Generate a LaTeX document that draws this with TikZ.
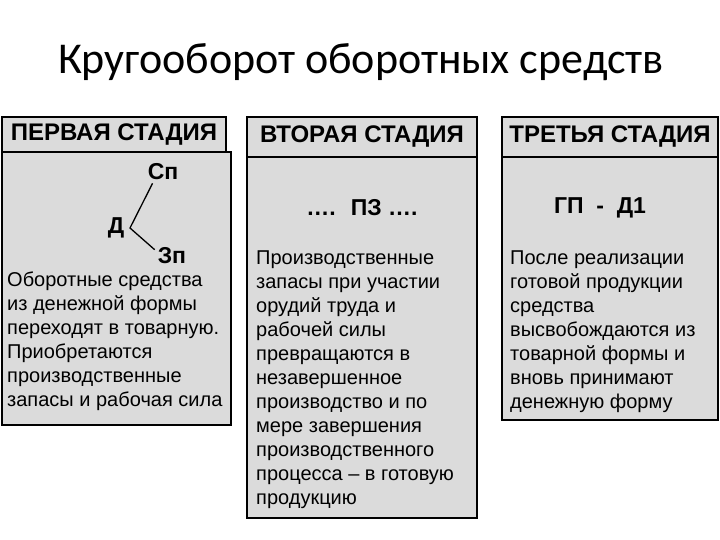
\documentclass[tikz,border=0pt]{standalone}
\usepackage{fontspec}
\setmainfont{Liberation Sans}
\newfontfamily\titlefont{Carlito}
\begin{document}
\begin{tikzpicture}[x=1pt,y=-1pt,
  boxstyle/.style={draw=black,line width=1.2pt,fill=black!14},
  bodytext/.style={anchor=north west,align=left,font=\fontsize{20}{24}\selectfont,inner sep=0pt},
  headtext/.style={font=\bfseries\fontsize{24}{26}\selectfont},
  symb/.style={font=\bfseries\fontsize{23}{26}\selectfont,inner sep=1pt}]
\useasboundingbox (0,0) rectangle (720,540);
\node[font=\titlefont\fontsize{44}{50}\selectfont] (title) at (361,62) {Кругооборот оборотных средств};
% column 1
\draw[boxstyle] (2,117) rectangle (226,152);
\node[headtext] (h1) at (114,135) {ПЕРВАЯ СТАДИЯ};
\draw[boxstyle] (2,152) rectangle (231,425);
\node[bodytext] (t1) at (7,272) {Оборотные средства\\из денежной формы\\переходят в товарную.\\Приобретаются\\производственные\\запасы и рабочая сила};
\node[symb] (sp) at (163,172) {Сп};
\node[symb] (d) at (116,228) {Д};
\node[symb] (zp) at (172,256) {Зп};
\coordinate (v) at (130,228);
\draw[line width=1.3pt] (sp.south west) ++(6,2) -- (v) -- ([xshift=-2pt,yshift=-3pt]zp.north west);
% column 2
\draw[boxstyle] (247,117) rectangle (477,157);
\node[headtext] (h2) at (362,137) {ВТОРАЯ СТАДИЯ};
\draw[boxstyle] (247,157) rectangle (477,518);
\node[symb] (pz) at (362,208) {…. \ ПЗ ….};
\node[bodytext] (t2) at (256,251) {Производственные\\запасы при участии\\орудий труда и\\рабочей силы\\превращаются в\\незавершенное\\производство и по\\мере завершения\\производственного\\процесса – в готовую\\продукцию};
% column 3
\draw[boxstyle] (502,117) rectangle (718,157);
\node[headtext] (h3) at (610,137) {ТРЕТЬЯ СТАДИЯ};
\draw[boxstyle] (502,157) rectangle (718,420);
\node[symb] (gp) at (600,208) {ГП \ - \ Д1};
\node[bodytext] (t3) at (510,251) {После реализации\\готовой продукции\\средства\\высвобождаются из\\товарной формы и\\вновь принимают\\денежную форму};
\end{tikzpicture}
\end{document}
